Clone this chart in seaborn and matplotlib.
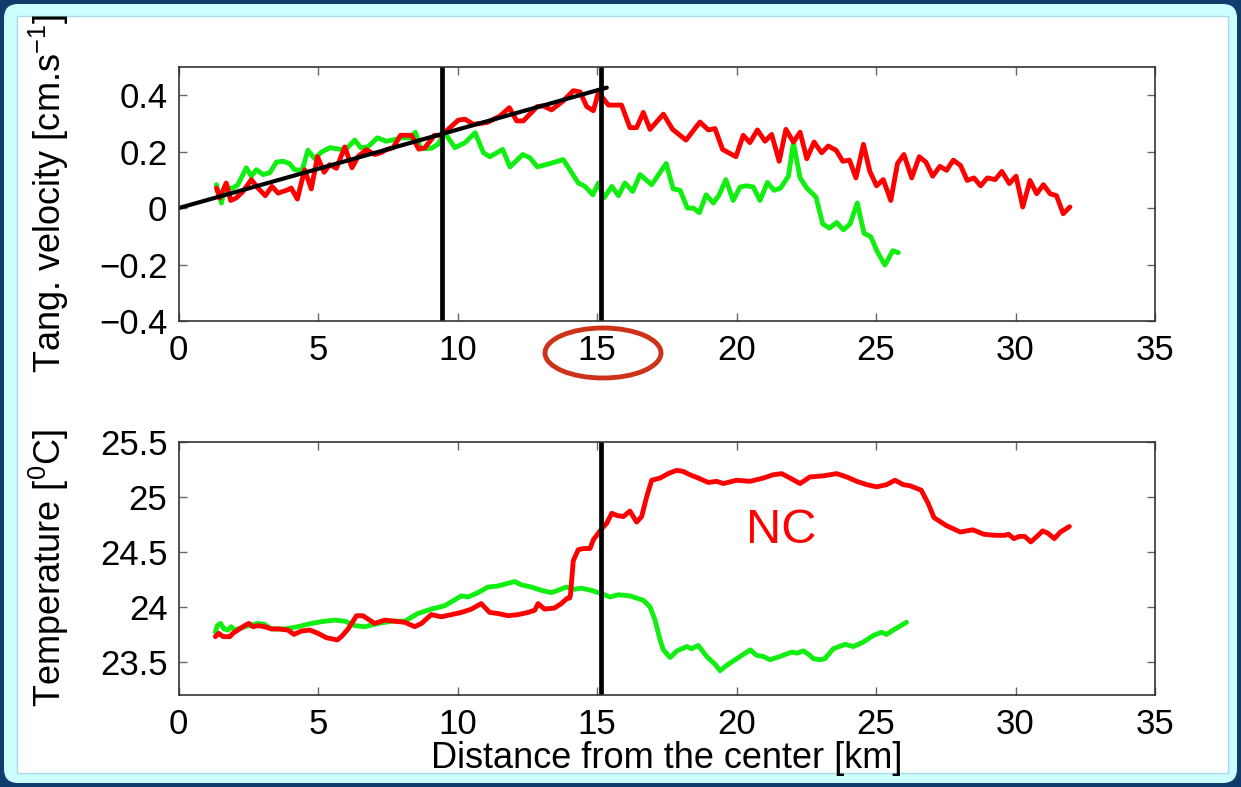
import numpy as np
import pandas as pd
import seaborn as sns
import matplotlib
matplotlib.use("Agg")
import matplotlib.pyplot as plt
from matplotlib.patches import FancyBboxPatch, Rectangle, Ellipse
from matplotlib.transforms import IdentityTransform

# distance from the center [km] and tangential velocity [cm/s]
vel_red_x = [1.36, 1.48, 1.71, 1.87, 2.07, 2.31, 2.61, 2.85, 3.11, 3.35, 3.57, 3.92, 4.04, 4.26, 4.52, 4.76, 4.98,
             5.22, 5.42, 5.66, 5.96, 6.22, 6.43, 6.73, 7.03, 7.25, 7.45, 7.69, 7.96, 8.35, 8.61, 8.83, 9.18, 9.42,
             9.73, 10.03, 10.27, 10.57, 11.05, 11.52, 11.86, 12.12, 12.36, 12.86, 13.08, 13.37, 13.79, 14.15, 14.39,
             14.63, 14.87, 15.05, 15.41, 15.88, 16.18, 16.42, 16.66, 16.90, 17.38, 17.71, 18.19, 18.69, 18.99, 19.23,
             19.50, 19.98, 20.24, 20.48, 20.75, 21.02, 21.26, 21.53, 21.77, 22.04, 22.28, 22.52, 22.78, 23.05, 23.29,
             23.57, 23.81, 24.05, 24.28, 24.55, 24.78, 25.02, 25.26, 25.53, 25.77, 26.0, 26.28, 26.55, 26.79, 27.03,
             27.29, 27.53, 27.77, 28.03, 28.27, 28.51, 28.75, 28.99, 29.27, 29.51, 29.78, 30.02, 30.26, 30.52, 30.76,
             31.0, 31.24, 31.47, 31.71, 31.95]
vel_red_y = [0.071, 0.036, 0.089, 0.027, 0.036, 0.059, 0.101, 0.071, 0.044, 0.077, 0.053, 0.065, 0.071, 0.032, 0.136,
             0.068, 0.182, 0.127, 0.154, 0.141, 0.217, 0.143, 0.182, 0.207, 0.19, 0.196, 0.207, 0.214, 0.258, 0.258,
             0.209, 0.214, 0.258, 0.258,
             0.285, 0.312, 0.315, 0.297, 0.303, 0.326, 0.356, 0.309, 0.309, 0.36, 0.362, 0.348, 0.38, 0.416, 0.412,
             0.36, 0.345, 0.41, 0.365, 0.365, 0.285, 0.285, 0.339, 0.279, 0.333, 0.279, 0.241, 0.305, 0.277, 0.282,
             0.208, 0.182,
             0.258, 0.232, 0.277, 0.237, 0.261, 0.166, 0.279, 0.234, 0.269, 0.175, 0.234, 0.196, 0.22, 0.205, 0.166,
             0.17, 0.107, 0.226, 0.13, 0.079, 0.101, 0.027, 0.158, 0.19, 0.107, 0.182, 0.163, 0.113, 0.148, 0.134,
             0.17, 0.151, 0.098, 0.107, 0.079, 0.107, 0.101, 0.13, 0.087, 0.113, 0.004, 0.098, 0.051, 0.083, 0.051,
             0.044, -0.02, 0.004]

vel_green_x = [1.36, 1.54, 1.65, 1.95, 2.13, 2.43, 2.61, 2.79, 3.03, 3.27, 3.51, 3.75, 3.98, 4.16, 4.43, 4.64, 4.88,
               5.12, 5.42, 5.84, 6.02, 6.32, 6.53, 6.79, 7.13, 7.45, 7.75, 7.96, 8.29, 8.49, 8.68, 9.06, 9.30, 9.54,
               9.91, 10.27, 10.63, 10.93, 11.16, 11.62, 11.88, 12.34, 12.60, 12.86, 13.32, 13.79, 14.33, 14.57, 14.85,
               15.05, 15.25, 15.53, 15.77, 16.0, 16.28, 16.54, 16.96, 17.48, 17.73, 17.98, 18.24, 18.45, 18.67, 18.91,
               19.17, 19.38, 19.62, 19.88, 20.13, 20.36, 20.6, 20.84, 21.11, 21.35, 21.58, 21.86, 22.04, 22.28, 22.52,
               22.85, 23.09, 23.33, 23.59, 23.83, 24.07, 24.33, 24.57, 24.81, 25.05, 25.32, 25.60, 25.80]
vel_green_y = [0.083, 0.018, 0.071, 0.071, 0.083, 0.143, 0.113, 0.136, 0.119, 0.125, 0.163, 0.166, 0.158, 0.136, 0.134,
               0.205, 0.175, 0.198, 0.214, 0.208, 0.21, 0.241, 0.214, 0.217, 0.249, 0.237, 0.243, 0.249, 0.249, 0.269,
               0.21, 0.212, 0.226, 0.267,
               0.214, 0.232, 0.267, 0.196, 0.182, 0.208, 0.146, 0.19, 0.178, 0.146, 0.158, 0.172, 0.089, 0.077, 0.047,
               0.089, 0.036, 0.077, 0.044, 0.089, 0.059, 0.119, 0.083, 0.158, 0.068, 0.063, 0.0, 0.0, -0.016, 0.047,
               0.018, 0.047, 0.101, 0.027,
               0.075, 0.079, 0.075, 0.027, 0.091, 0.063, 0.071, 0.113, 0.232, 0.107, 0.071, 0.039, -0.056, -0.071,
               -0.051, -0.077, -0.056, 0.018, -0.089, -0.101, -0.155, -0.202, -0.151, -0.158]

# linear fit (solid body rotation) and marked radii
fit_x = [0.0, 15.35]
fit_y = [0.0, 0.427]
vel_marks = [9.44, 15.14]
temp_marks = [15.14]

# temperature [deg C]
temp_red_x = [1.32, 1.44, 1.60, 1.84, 1.95, 2.19, 2.37, 2.52, 2.67, 2.85, 3.09, 3.33, 3.57, 3.92, 4.14, 4.40, 4.70,
              5.0, 5.30, 5.69, 5.84, 6.08, 6.38, 6.61, 6.85, 7.03, 7.39, 7.75, 8.11, 8.47, 8.71, 9.06, 9.42, 9.78,
              10.14, 10.50, 10.85, 11.15, 11.45, 11.81, 12.17, 12.53, 12.77, 12.89, 13.12, 13.48, 13.72, 13.94, 14.02,
              14.05, 14.15, 14.33, 14.52, 14.75, 14.87, 15.17, 15.35, 15.53, 15.71, 15.94, 16.18, 16.42, 16.60, 16.78,
              16.96, 17.26, 17.55, 17.85, 18.09, 18.33, 18.63, 18.99, 19.29, 19.53, 20.0, 20.48, 20.96, 21.32, 21.62,
              21.92, 22.28, 22.63, 23.11, 23.59, 23.95, 24.31, 24.67, 25.02, 25.38, 25.68, 25.98, 26.22, 26.62, 26.87,
              27.08, 27.51, 28.02, 28.47, 28.86, 29.24, 29.62, 29.75, 29.94, 30.14, 30.33, 30.55, 30.77, 30.97, 31.16,
              31.39, 31.61, 31.93]
temp_red_y = [23.73, 23.76, 23.73, 23.73, 23.76, 23.80, 23.83, 23.85, 23.82, 23.83, 23.82, 23.80, 23.80, 23.79, 23.75,
              23.78, 23.79, 23.76, 23.72, 23.70, 23.73, 23.80, 23.92, 23.92, 23.88, 23.85, 23.88, 23.87, 23.86, 23.82,
              23.85, 23.93, 23.91, 23.93, 23.95, 23.98, 24.03, 23.95, 23.94, 23.92, 23.93, 23.95, 23.97, 24.03, 23.98,
              23.99, 24.03, 24.08, 24.08,
              24.11, 24.42, 24.52, 24.53, 24.53, 24.61, 24.71, 24.76, 24.85, 24.83, 24.82, 24.87, 24.77, 24.82, 25.0,
              25.15, 25.17, 25.21, 25.24, 25.23, 25.20, 25.17, 25.13, 25.14, 25.12, 25.15, 25.14, 25.17, 25.20, 25.21,
              25.17, 25.12, 25.18, 25.19, 25.21, 25.18, 25.14, 25.11, 25.09, 25.11, 25.15, 25.11, 25.10, 25.06, 24.94,
              24.81, 24.74, 24.68, 24.70, 24.66, 24.65, 24.65, 24.66, 24.62, 24.64, 24.64, 24.59, 24.64, 24.69, 24.67,
              24.62, 24.68, 24.73]

temp_green_x = [1.32, 1.39, 1.51, 1.63, 1.77, 1.89, 2.01, 2.37, 2.85, 3.09, 3.33, 3.81, 4.28, 4.76, 5.24, 5.60, 5.96,
                6.32, 6.67, 7.15, 7.63, 8.11, 8.58, 9.06, 9.54, 10.14, 10.38, 10.74, 11.09, 11.45, 12.05, 12.29, 12.65,
                13.01, 13.36, 13.60, 13.90, 14.20, 14.44, 14.80, 15.16, 15.47, 15.76, 16.18, 16.42, 16.66, 16.90, 17.08,
                17.26, 17.38, 17.62, 17.86, 18.22, 18.39, 18.63, 18.93, 19.23, 19.41, 19.65, 19.95, 20.25, 20.49, 20.72,
                20.96, 21.20, 21.56, 21.98, 22.16, 22.40, 22.63, 22.75, 22.99, 23.17, 23.47, 23.89, 24.19, 24.54, 24.90,
                25.20, 25.38, 25.62, 26.09]
temp_green_y = [23.77, 23.83, 23.85, 23.80, 23.79, 23.82, 23.79, 23.82, 23.85, 23.84, 23.80, 23.80, 23.82, 23.85, 23.87,
                23.88, 23.87, 23.83, 23.82, 23.85, 23.87, 23.87, 23.94, 23.98, 24.01, 24.10, 24.09, 24.13, 24.18, 24.19,
                24.23, 24.20, 24.18, 24.15, 24.13, 24.15, 24.18, 24.16, 24.17, 24.15, 24.12, 24.09, 24.11, 24.10, 24.08,
                24.06, 24.0, 23.88, 23.70, 23.61, 23.54, 23.60, 23.64, 23.62, 23.65, 23.55, 23.48, 23.42, 23.47, 23.52,
                23.57, 23.61, 23.56, 23.55, 23.52, 23.55, 23.59, 23.58, 23.60, 23.56, 23.53, 23.52, 23.53, 23.62, 23.66,
                23.64, 23.68, 23.74, 23.77, 23.75, 23.79, 23.86]

x_ticks = [0, 5, 10, 15, 20, 25, 30, 35]
vel_ticks = [-0.4, -0.2, 0, 0.2, 0.4]
vel_ticklabels = ["\u22120.4", "\u22120.2", "0", "0.2", "0.4"]
temp_ticks = [23.5, 24, 24.5, 25, 25.5]
temp_ticklabels = ["23.5", "24", "24.5", "25", "25.5"]

sns.set_style("ticks")
plt.rcParams["font.family"] = ["Liberation Sans", "DejaVu Sans"]
plt.rcParams["mathtext.fontset"] = "custom"
plt.rcParams["mathtext.rm"] = "Liberation Sans"
plt.rcParams["mathtext.it"] = "Liberation Sans:italic"
plt.rcParams["mathtext.default"] = "regular"
plt.rcParams["text.color"] = "black"
plt.rcParams["axes.labelcolor"] = "black"

W, H = 1241, 787
fig = plt.figure(figsize=(W / 100, H / 100), dpi=100)
fig.patch.set_facecolor("#0f3c6c")

# slide frame
fig.add_artist(FancyBboxPatch((4, 4), W - 8, H - 8, boxstyle="round,pad=0,rounding_size=14",
                              transform=IdentityTransform(), facecolor="#ccfcfd", edgecolor="none", zorder=-10))
fig.add_artist(Rectangle((17, 14), 1211, 757, transform=IdentityTransform(),
                         facecolor="white", edgecolor="#a8dcea", lw=1, zorder=-9))

ax1 = fig.add_axes([178.5 / W, 1 - 321 / H, (1155 - 178.5) / W, 254 / H])
ax2 = fig.add_axes([178.5 / W, 1 - 695 / H, (1155 - 178.5) / W, 253.3 / H])

red, green = "#ff0000", "#11ee11"
lw = 3.5

sns.lineplot(x=vel_green_x, y=vel_green_y, ax=ax1, color=green, linewidth=lw)
sns.lineplot(x=vel_red_x, y=vel_red_y, ax=ax1, color=red, linewidth=lw)
sns.lineplot(x=fit_x, y=fit_y, ax=ax1, color="black", linewidth=3)
for xv in vel_marks:
    ax1.axvline(xv, color="black", lw=3.4)

sns.lineplot(x=temp_green_x, y=temp_green_y, ax=ax2, color=green, linewidth=lw)
sns.lineplot(x=temp_red_x, y=temp_red_y, ax=ax2, color=red, linewidth=lw)
for xv in temp_marks:
    ax2.axvline(xv, color="black", lw=3.4)
ax2.text(21.6, 24.69, "NC", color=red, fontsize=35, ha="center", va="center")

ax1.set_xlim(0, 35)
ax1.set_ylim(-0.4, 0.5)
ax1.set_yticks(vel_ticks)
ax1.set_yticklabels(vel_ticklabels)
ax2.set_xlim(0, 35)
ax2.set_ylim(23.2, 25.5)
ax2.set_yticks(temp_ticks)
ax2.set_yticklabels(temp_ticklabels)

for ax in (ax1, ax2):
    ax.set_xticks(x_ticks)
    ax.set_xticklabels([str(t) for t in x_ticks])
    ax.tick_params(direction="in", length=6, width=1, color="#666666", labelcolor="black",
                   labelsize=25, top=True, right=True)
    ax.tick_params(axis="x", pad=9)
    ax.tick_params(axis="y", pad=8)
    for s in ax.spines.values():
        s.set_color("#333333")
        s.set_linewidth(1.2)
    ax.set_facecolor("white")

ax1.set_ylabel(r"Tang. velocity [cm.s$^{-1}$]", fontsize=26)
ax1.yaxis.set_label_coords(-0.11, 0.5)
ax2.set_ylabel(r"Temperature [$^{0}$C]", fontsize=26)
ax2.yaxis.set_label_coords(-0.11, 0.5)
ax2.set_xlabel("Distance from the center [km]", fontsize=26)
ax2.xaxis.set_label_coords(0.5, -0.18)

# highlight of the 15 km tick
fig.add_artist(Ellipse((603, H - 353), 116, 50, transform=IdentityTransform(),
                       fill=False, edgecolor="#cc3318", lw=3.5))

fig.savefig("out.png", dpi=100, facecolor=fig.get_facecolor())
